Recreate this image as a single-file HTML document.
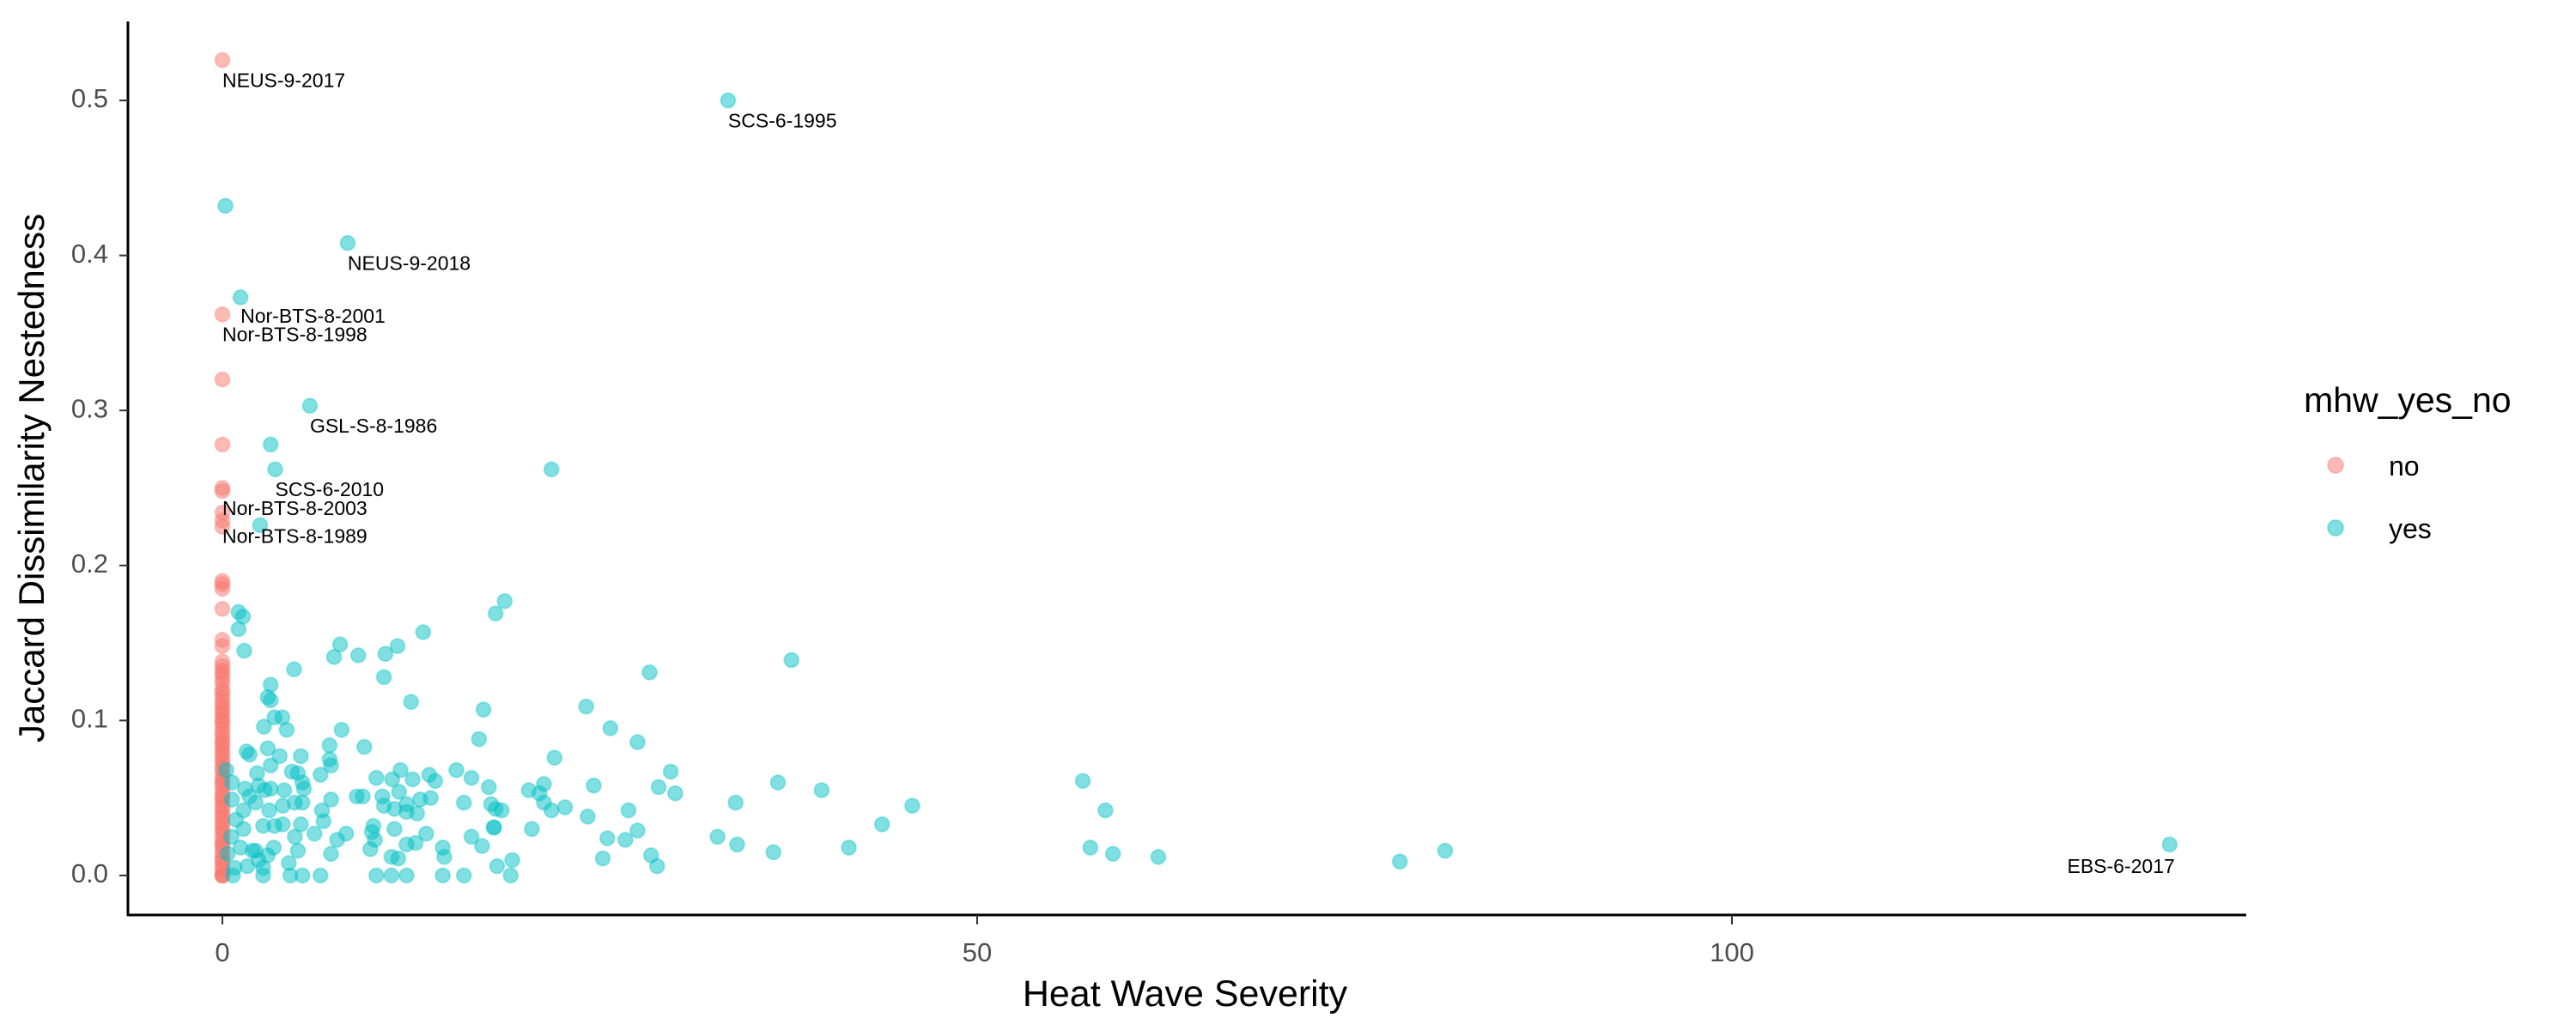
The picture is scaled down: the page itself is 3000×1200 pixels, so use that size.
<!DOCTYPE html>
<html><head><meta charset="utf-8"><style>
html,body{margin:0;padding:0;background:#fff;}
svg{display:block;font-family:"Liberation Sans",Arial,sans-serif;}
</style></head><body>
<svg id="chart" width="3000" height="1200" viewBox="0 0 3000 1200" xmlns="http://www.w3.org/2000/svg">
<rect x="0" y="0" width="3000" height="1200" fill="#fff"/>
<g id="points"></g>
<g id="labels"></g>
<g id="axes"></g>
<text x="40" y="557" transform="rotate(-90 40 557)" text-anchor="middle" dominant-baseline="middle" font-size="42" fill="#000">Jaccard Dissimilarity Nestedness</text>
<text x="1380" y="1172" text-anchor="middle" font-size="43" fill="#000">Heat Wave Severity</text>
<g>
<text x="2683" y="480" font-size="41" fill="#000">mhw_yes_no</text>
<g>
<circle cx="2720" cy="542" r="9" fill="#F8766D" fill-opacity="0.5" stroke="#F8766D" stroke-opacity="0.35" stroke-width="2"/>
<text x="2782" y="554" font-size="32" fill="#000">no</text>
</g>
<g>
<circle cx="2720" cy="615" r="9" fill="#00BFC4" fill-opacity="0.5" stroke="#00BFC4" stroke-opacity="0.35" stroke-width="2"/>
<text x="2782" y="627" font-size="32" fill="#000">yes</text>
</g>
</g>
</svg>
<script>
const xTicks = [0, 50, 100];
const xTickLabels = ["0", "50", "100"];
const yTicks = [0, 0.1, 0.2, 0.3, 0.4, 0.5];
const yTickLabels = ["0.0", "0.1", "0.2", "0.3", "0.4", "0.5"];
const noY = [0.526,0.362,0.32,0.278,0.25,0.248,0.234,0.229,0.225,0.19,0.188,0.185,0.172,0.152,0.148,0.138,0.135,0.132,0.13,0.127,0.124,0.12,0.118,0.115,0.112,0.11,0.107,0.105,0.102,0.1,0.098,0.095,0.092,0.09,0.087,0.085,0.083,0.08,0.078,0.075,0.073,0.07,0.068,0.065,0.062,0.06,0.058,0.055,0.052,0.05,0.048,0.045,0.043,0.04,0.038,0.035,0.033,0.03,0.028,0.025,0.022,0.02,0.018,0.015,0.012,0.01,0.008,0.005,0.003,0,0,0];
const yesX = [33.5,8.3,0.2,1.2,5.8,3.2,3.5,21.8,2.5,129,45.7,43.7,57,58.5,57.5,59,62,78,81,
1.07,1.36,1.07,1.45,3.2,3.0,3.2,4.75,7.4,7.8,9.0,10.8,11.6,10.7,13.3,12.5,18.1,18.7,28.3,37.7,17.3,24.1,25.7,27.5,22.0,17.0,7.9,9.4,2.75,3.45,3.97,4.26,7.1,1.8,1.6,3.0,3.8,5.2,7.1,7.2,6.5,4.6,3.2,2.3,0.64,0.26,1.5,2.4,3.2,4.1,5.0,5.3,5.4,10.2,11.25,11.8,12.6,13.7,14.1,15.5,16.5,17.65,20.3,21.3,21.0,21.3,24.6,29.7,28.9,30.0,36.8,39.7,34.0,21.8,22.7,24.2,26.9,27.5,26.7,25.5,25.2,28.4,28.8,32.8,34.1,36.5,41.5,20.5,18.0,18.2,19.2,19.1,16.0,14.6,12.2,11.2,10.2,6.5,5.3,4.5,2.7,0.7,8.9,9.3,10.6,11.7,10.7,11.4,12.2,13.1,13.8,12.2,12.9,16.0,17.8,18.1,18.5,17.97,16.5,17.2,14.6,14.7,13.5,12.8,12.2,11.4,11.65,11.2,10.0,9.9,10.1,9.8,8.2,7.6,7.2,6.7,6.6,7.2,6.1,5.2,5.0,4.4,4.8,4.0,3.45,2.7,1.4,0.9,0.6,2.2,3.0,2.4,1.65,0.8,2.7,1.2,4.0,4.8,5.3,3.1,2.2,1.4,0.64,2.8,1.8,2.0,3.4,0.35];
const yesY = [0.50,0.408,0.432,0.373,0.303,0.278,0.262,0.262,0.226,0.02,0.045,0.033,0.061,0.042,0.018,0.014,0.012,0.009,0.016,
0.170,0.167,0.159,0.145,0.123,0.115,0.113,0.133,0.141,0.149,0.142,0.143,0.148,0.128,0.157,0.112,0.169,0.177,0.131,0.139,0.107,0.109,0.095,0.086,0.076,0.088,0.094,0.083,0.096,0.102,0.102,0.094,0.084,0.078,0.080,0.082,0.077,0.077,0.075,0.071,0.065,0.067,0.071,0.066,0.060,0.068,0.056,0.058,0.056,0.055,0.066,0.060,0.056,0.063,0.062,0.068,0.062,0.065,0.061,0.068,0.063,0.057,0.055,0.059,0.053,0.047,0.058,0.067,0.057,0.053,0.060,0.055,0.047,0.042,0.044,0.038,0.042,0.029,0.023,0.024,0.011,0.013,0.006,0.025,0.020,0.015,0.018,0.030,0.031,0.006,0.010,0,0,0,0,0,0,0,0,0,0,0,0.051,0.051,0.051,0.054,0.045,0.043,0.046,0.049,0.050,0.041,0.040,0.047,0.046,0.043,0.042,0.031,0.025,0.019,0.018,0.012,0.027,0.021,0.020,0.030,0.011,0.012,0.032,0.028,0.023,0.017,0.027,0.023,0.014,0.035,0.042,0.049,0.027,0.033,0.016,0.008,0.025,0.033,0.032,0.032,0.030,0.036,0.025,0.016,0.013,0.010,0.006,0.005,0.005,0.018,0.045,0.047,0.047,0.042,0.047,0.042,0.049,0.055,0.051,0.016,0.018,0.014];
const labelText = ["NEUS-9-2017","SCS-6-1995","NEUS-9-2018","Nor-BTS-8-2001","Nor-BTS-8-1998","GSL-S-8-1986","SCS-6-2010","Nor-BTS-8-2003","Nor-BTS-8-1989","EBS-6-2017"];
const labelX = [0,33.5,8.3,1.2,0,5.8,3.5,0,0,129];
const labelY = [0.512,0.486,0.394,0.360,0.348,0.289,0.248,0.236,0.218,0.005];
const labelAnchor = ["start","start","start","start","start","start","start","start","start","end"];

const X0 = 259, XS = 17.58, Y0 = 1020, YS = 1806;
function sx(v){ return X0 + v*XS; }
function sy(v){ return Y0 - v*YS; }
const NS = "http://www.w3.org/2000/svg";
function mk(tag, attrs){ const e = document.createElementNS(NS, tag); for (const k in attrs) e.setAttribute(k, attrs[k]); return e; }

const pts = document.getElementById('points');
noY.forEach((v, i) => {
  const c = mk('circle', {cx: sx(0), cy: sy(v), r: 8.5, fill: '#F8766D', 'fill-opacity': 0.5, stroke: '#F8766D', 'stroke-opacity': 0.3, 'stroke-width': 2});
  
  
  pts.appendChild(c);
});
yesX.forEach((v, i) => {
  const c = mk('circle', {cx: sx(v), cy: sy(yesY[i]), r: 8.5, fill: '#00BFC4', 'fill-opacity': 0.5, stroke: '#00BFC4', 'stroke-opacity': 0.3, 'stroke-width': 2});
  
  
  pts.appendChild(c);
});
const lab = document.getElementById('labels');
labelText.forEach((t, i) => {
  const e = mk('text', {x: sx(labelX[i]) + (labelAnchor[i]==='end'?6:0), y: sy(labelY[i]), 'font-size': 23, fill: '#000', 'text-anchor': labelAnchor[i], 'dominant-baseline': 'middle'});
  e.textContent = t;
  
  
  lab.appendChild(e);
});
const ax = document.getElementById('axes');
const yl = mk('line', {x1: 149, y1: 25, x2: 149, y2: 1067, stroke: '#000', 'stroke-width': 3});


ax.appendChild(yl);
const xl = mk('line', {x1: 148, y1: 1066, x2: 2616, y2: 1066, stroke: '#000', 'stroke-width': 3});


ax.appendChild(xl);
yTicks.forEach((v, i) => {
  const t = mk('line', {x1: 139, y1: sy(v), x2: 149, y2: sy(v), stroke: '#333', 'stroke-width': 2});
  
  
  ax.appendChild(t);
  const l = mk('text', {x: 126, y: sy(v), 'font-size': 31, fill: '#4d4d4d', 'text-anchor': 'end', 'dominant-baseline': 'middle'});
  l.textContent = yTickLabels[i];
  
  
  ax.appendChild(l);
});
xTicks.forEach((v, i) => {
  const t = mk('line', {x1: sx(v), y1: 1066, x2: sx(v), y2: 1077, stroke: '#333', 'stroke-width': 2});
  
  
  ax.appendChild(t);
  const l = mk('text', {x: sx(v), y: 1120, 'font-size': 31, fill: '#4d4d4d', 'text-anchor': 'middle'});
  l.textContent = xTickLabels[i];
  
  
  ax.appendChild(l);
});
</script>
</body></html>
